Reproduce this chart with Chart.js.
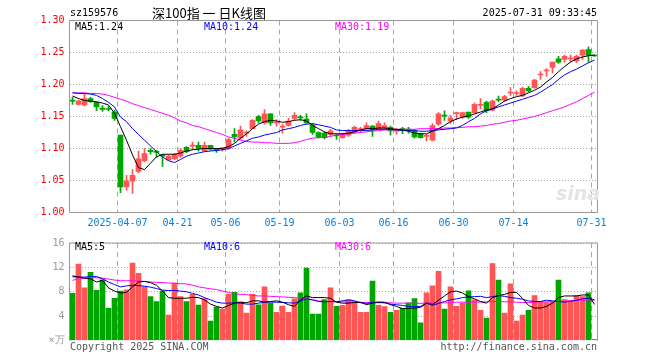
<!DOCTYPE html>
<html>
<head>
<meta charset="utf-8">
<script src="https://cdn.jsdelivr.net/npm/chart.js@4.4.0/dist/chart.umd.min.js"></script>
<style>
    body { margin: 0; background: #fff; width: 660px; height: 360px; overflow: hidden; position: relative;
           font-family: "DejaVu Sans Mono", monospace; font-size: 10px; color: #000; }
    .t { position: absolute; white-space: nowrap; line-height: 12px; }
    #top { position: absolute; left: 0; top: 0; }
    #vol { position: absolute; left: 0; top: 232px; }
</style>
</head>
<body>
<canvas id="top" width="660" height="232"></canvas>
<canvas id="vol" width="660" height="128"></canvas>

<div class="t" style="left:70px;top:7px;">sz159576</div>
<div class="t" style="left:209px;top:6px;transform:translateX(-50%);font-family:'Noto Sans CJK SC';font-size:13px;line-height:14px;">深100指 一 日K线图</div>
<div class="t" style="right:63px;top:7px;">2025-07-31 09:33:45</div>

<div class="t" style="left:75px;top:21px;">MA5:1.24</div>
<div class="t" style="left:204px;top:21px;color:#0000ff;">MA10:1.24</div>
<div class="t" style="left:335px;top:21px;color:#ff00ff;">MA30:1.19</div>
<div class="t" style="left:556px;top:182px;font-family:'DejaVu Sans';font-style:italic;font-weight:bold;font-size:19px;line-height:22px;color:#e4e4e4;">sina</div>

<div class="t" style="left:75px;top:241px;">MA5:5</div>
<div class="t" style="left:204px;top:241px;color:#0000ff;">MA10:6</div>
<div class="t" style="left:335px;top:241px;color:#ff00ff;">MA30:6</div>

<div class="t" style="left:70px;top:341px;color:#555;">Copyright 2025 SINA.COM</div>
<div class="t" style="right:63px;top:341px;color:#555;">http://finance.sina.com.cn</div>

<script>
// trading days shown (2025-03-25 .. 2025-07-31)
const dates = [
    '2025-03-25','2025-03-26','2025-03-27','2025-03-28','2025-03-31',
    '2025-04-01','2025-04-02','2025-04-03','2025-04-07','2025-04-08','2025-04-09','2025-04-10','2025-04-11',
    '2025-04-14','2025-04-15','2025-04-16','2025-04-17','2025-04-18','2025-04-21','2025-04-22','2025-04-23',
    '2025-04-24','2025-04-25','2025-04-28','2025-04-29','2025-04-30',
    '2025-05-06','2025-05-07','2025-05-08','2025-05-09','2025-05-12','2025-05-13','2025-05-14','2025-05-15',
    '2025-05-16','2025-05-19','2025-05-20','2025-05-21','2025-05-22','2025-05-23','2025-05-26','2025-05-27',
    '2025-05-28','2025-05-29','2025-05-30',
    '2025-06-03','2025-06-04','2025-06-05','2025-06-06','2025-06-09','2025-06-10','2025-06-11','2025-06-12',
    '2025-06-13','2025-06-16','2025-06-17','2025-06-18','2025-06-19','2025-06-20','2025-06-23','2025-06-24',
    '2025-06-25','2025-06-26','2025-06-27','2025-06-30',
    '2025-07-01','2025-07-02','2025-07-03','2025-07-04','2025-07-07','2025-07-08','2025-07-09','2025-07-10',
    '2025-07-11','2025-07-14','2025-07-15','2025-07-16','2025-07-17','2025-07-18','2025-07-21','2025-07-22',
    '2025-07-23','2025-07-24','2025-07-25','2025-07-28','2025-07-29','2025-07-30','2025-07-31'
];
const tickDates = ['2025-04-07','2025-04-21','2025-05-06','2025-05-19','2025-06-03','2025-06-16','2025-06-30','2025-07-14','2025-07-31'];
const tickLabels = ['2025-04-07','04-21','05-06','05-19','06-03','06-16','06-30','07-14','07-31'];
const priceTicks = [1.00, 1.05, 1.10, 1.15, 1.20, 1.25, 1.30];
const volTicks = [0, 4, 8, 12, 16];

const open = [
    1.175,1.169,1.168,1.178,1.172,1.163,1.162,1.157,1.121,1.040,1.049,1.064,1.081,1.097,1.095,1.089,
    1.082,1.084,1.088,1.102,1.1036,1.105,1.096,1.105,1.098,1.0995,1.100,1.122,1.116,1.124,1.131,1.150,
    1.140,1.154,1.1398,1.1335,1.136,1.147,1.1484,1.146,1.137,1.125,1.124,1.122,1.120,1.117,1.121,1.126,
    1.1294,1.131,1.135,1.131,1.132,1.133,1.1272,1.1298,1.129,1.1275,1.123,1.119,1.113,1.138,1.151,1.143,
    1.1546,1.149,1.157,1.156,1.1674,1.172,1.160,1.176,1.1755,1.1867,1.1859,1.182,1.194,1.195,1.2148,1.2211,
    1.2265,1.240,1.239,1.2398,1.237,1.246,1.2546,1.2455
];
const high = [
    1.180,1.1755,1.185,1.180,1.173,1.167,1.166,1.160,1.121,1.058,1.067,1.096,1.100,1.100,1.097,1.091,
    1.090,1.092,1.100,1.103,1.110,1.110,1.110,1.105,1.100,1.1015,1.116,1.131,1.135,1.1275,1.145,1.152,
    1.161,1.154,1.145,1.138,1.147,1.156,1.152,1.154,1.139,1.126,1.1255,1.130,1.123,1.124,1.130,1.135,
    1.133,1.140,1.136,1.143,1.140,1.135,1.131,1.133,1.133,1.130,1.124,1.122,1.139,1.156,1.159,1.152,
    1.157,1.157,1.157,1.171,1.178,1.174,1.1755,1.182,1.183,1.195,1.190,1.196,1.197,1.208,1.220,1.225,
    1.235,1.244,1.246,1.246,1.246,1.2546,1.259,1.2465
];
const low = [
    1.169,1.168,1.166,1.172,1.159,1.158,1.159,1.144,1.031,1.035,1.030,1.062,1.079,1.091,1.086,1.072,
    1.081,1.082,1.086,1.093,1.098,1.096,1.095,1.097,1.094,1.096,1.098,1.110,1.114,1.119,1.131,1.140,
    1.138,1.136,1.135,1.124,1.135,1.145,1.144,1.139,1.122,1.116,1.115,1.119,1.114,1.116,1.119,1.124,
    1.126,1.130,1.119,1.130,1.130,1.121,1.122,1.123,1.124,1.116,1.116,1.112,1.112,1.136,1.144,1.139,
    1.145,1.147,1.147,1.155,1.162,1.156,1.159,1.173,1.174,1.183,1.183,1.181,1.1885,1.194,1.208,1.213,
    1.218,1.233,1.235,1.235,1.234,1.239,1.235,1.244
];
const close = [
    1.174,1.174,1.178,1.173,1.165,1.161,1.161,1.147,1.040,1.049,1.058,1.084,1.092,1.095,1.094,1.088,
    1.088,1.091,1.097,1.095,1.104,1.100,1.105,1.099,1.097,1.100,1.114,1.118,1.129,1.1244,1.144,1.143,
    1.154,1.140,1.1402,1.134,1.143,1.152,1.1478,1.140,1.125,1.118,1.117,1.1275,1.1195,1.122,1.1275,1.133,
    1.1298,1.136,1.129,1.139,1.136,1.1275,1.1277,1.1294,1.1286,1.118,1.117,1.1194,1.136,1.154,1.1505,1.148,
    1.155,1.156,1.149,1.169,1.1678,1.159,1.174,1.1755,1.181,1.1871,1.1863,1.194,1.190,1.207,1.2152,1.2215,
    1.235,1.235,1.244,1.2402,1.244,1.2536,1.246,1.2445
];
const ma5 = [
    1.182,1.178,1.175,1.174,1.173,1.171,1.168,1.155,1.134,1.113,1.090,1.070,1.067,1.077,1.087,1.091,
    1.091,1.091,1.093,1.096,1.098,1.099,1.100,1.100,1.100,1.100,1.103,1.108,1.116,1.123,1.131,1.138,
    1.142,1.144,1.143,1.141,1.142,1.144,1.145,1.143,1.136,1.131,1.126,1.123,1.123,1.123,1.124,1.126,
    1.129,1.131,1.131,1.132,1.132,1.131,1.130,1.129,1.127,1.124,1.123,1.123,1.127,1.131,1.136,1.142,
    1.146,1.149,1.151,1.154,1.157,1.160,1.162,1.168,1.174,1.178,1.181,1.183,1.187,1.191,1.196,1.204,
    1.211,1.220,1.228,1.235,1.240,1.243,1.245,1.246
];
const ma10 = [
    1.187,1.186,1.186,1.185,1.183,1.178,1.172,1.165,1.149,1.142,1.131,1.122,1.113,1.104,1.095,1.087,
    1.081,1.078,1.083,1.088,1.091,1.093,1.095,1.096,1.097,1.098,1.100,1.104,1.108,1.112,1.116,1.118,
    1.121,1.123,1.125,1.129,1.131,1.133,1.136,1.138,1.139,1.137,1.135,1.133,1.129,1.128,1.128,1.128,
    1.128,1.128,1.129,1.130,1.130,1.130,1.129,1.128,1.128,1.128,1.127,1.127,1.128,1.129,1.130,1.131,
    1.132,1.136,1.142,1.147,1.154,1.159,1.162,1.165,1.168,1.171,1.174,1.177,1.180,1.183,1.188,1.194,
    1.200,1.208,1.215,1.220,1.224,1.229,1.234,1.238
];
const ma30 = [
    1.187,1.187,1.187,1.186,1.186,1.185,1.183,1.180,1.177,1.174,1.170,1.167,1.164,1.161,1.158,1.155,
    1.152,1.148,1.143,1.140,1.136,1.134,1.131,1.128,1.125,1.122,1.118,1.116,1.113,1.111,1.110,1.110,
    1.109,1.109,1.108,1.108,1.108,1.109,1.111,1.114,1.116,1.117,1.117,1.119,1.121,1.122,1.123,1.124,
    1.125,1.126,1.127,1.128,1.129,1.129,1.130,1.130,1.130,1.130,1.131,1.131,1.131,1.131,1.132,1.132,
    1.133,1.133,1.134,1.134,1.135,1.136,1.138,1.139,1.141,1.143,1.144,1.146,1.148,1.150,1.153,1.156,
    1.159,1.162,1.165,1.169,1.173,1.178,1.183,1.188
];
// volume, in 万
const volume = [
    7.73,12.53,8.64,11.2,8.24,9.97,5.28,6.93,8.11,8.32,12.69,11.04,8.8,7.2,6.4,8.1,
    4.16,9.44,7.2,6.4,7.57,5.81,6.88,3.2,5.49,5.17,7.57,7.89,6.29,4.48,7.57,5.87,
    8.8,6.08,4.64,5.65,4.64,6.83,7.84,11.9,4.32,4.32,6.72,8.64,5.6,5.76,6.67,6.4,
    4.64,4.64,9.76,5.76,5.55,4.64,4.96,5.28,6.19,6.88,2.88,7.84,8.96,11.36,5.15,8.8,
    5.6,6.13,8.16,6.67,4.96,3.68,12.64,9.92,4.48,9.28,3.2,4.16,4.96,7.36,6.4,6.24,
    6.4,9.92,6.72,6.61,7.36,7.2,7.84,0.16
];
const volMa5 = [
    10.61,10.45,10.24,10.13,9.6,9.87,8.64,8.11,7.79,7.89,8.8,9.6,9.7,9.49,9.07,8.11,
    7.04,6.93,6.93,6.93,7.09,7.04,6.67,5.97,5.6,5.33,5.76,6.13,6.29,6.19,6.51,6.51,
    6.29,6.4,6.51,6.29,5.87,5.6,6.67,7.31,7.04,7.04,7.04,6.93,6.29,6.13,6.13,6.24,
    6.29,5.87,6.13,6.29,6.29,5.87,5.6,5.23,5.28,5.33,5.44,6.13,5.92,6.61,7.31,8.0,
    8.11,7.79,7.2,6.83,6.4,6.13,7.04,7.36,7.57,7.89,7.89,6.93,5.76,5.33,5.33,5.6,
    6.13,7.04,7.31,7.31,7.31,7.47,7.47,5.92
];
const volMa10 = [
    10.45,10.4,10.4,10.51,10.51,10.13,9.6,9.17,8.8,8.96,9.07,9.01,8.91,8.75,8.53,8.27,
    8.21,8.21,8.11,8.0,7.73,7.47,7.04,6.67,6.29,6.13,6.13,6.19,6.13,5.97,5.97,6.13,
    6.29,6.29,6.29,6.24,6.19,6.13,6.51,6.83,6.67,6.4,6.35,6.4,6.35,6.51,6.67,6.51,
    6.19,6.08,6.24,6.29,6.19,5.97,5.87,5.76,5.6,5.55,5.6,6.13,5.76,6.08,6.4,6.67,
    6.83,7.04,7.15,7.2,7.25,7.04,7.2,7.36,7.25,7.04,6.93,6.77,6.51,6.4,6.4,6.61,
    6.51,6.4,6.29,6.4,6.61,6.83,6.93,6.67
];
const volMa30 = [
    9.87,10.13,10.24,10.3,10.3,10.24,10.08,9.92,9.81,9.81,9.81,9.76,9.7,9.6,9.55,9.49,
    9.44,9.39,9.33,9.28,9.07,8.8,8.64,8.48,8.37,8.11,7.89,7.68,7.57,7.52,7.41,7.31,
    7.31,7.25,7.2,7.15,7.09,7.04,6.93,6.83,6.67,6.51,6.4,6.4,6.35,6.35,6.29,6.29,
    6.24,6.24,6.24,6.19,6.19,6.19,6.13,6.13,6.13,6.13,6.08,6.19,6.13,6.13,6.19,6.19,
    6.29,6.29,6.29,6.29,6.29,6.35,6.4,6.4,6.35,6.35,6.29,6.24,6.24,6.29,6.35,6.35,
    6.35,6.4,6.45,6.51,6.56,6.61,6.67,6.6
];

const UP = '#ff5555', DOWN = '#00a600';
const GRID = '#a8a8a8';
const MONO = { family: 'DejaVu Sans Mono', size: 10 };

const barColor = close.map((c, i) => c >= open[i] ? UP : DOWN);
const isTick = i => i < dates.length && tickDates.includes(dates[i]);

// gray frame round the plot area
const framePlugin = {
    id: 'frame',
    afterDraw(chart, args, opts) {
        const { ctx, chartArea: a } = chart;
        ctx.save();
        ctx.strokeStyle = '#999';
        ctx.lineWidth = 1;
        ctx.beginPath();
        ctx.moveTo(a.left, a.bottom);
        ctx.lineTo(a.left, a.top);
        ctx.lineTo(a.right, a.top);
        ctx.lineTo(a.right, a.bottom);
        if (opts.bottom) ctx.lineTo(a.left, a.bottom);
        ctx.stroke();
        ctx.restore();
    }
};

function xScale(showLabels) {
    return {
        grid: { color: c => isTick(c.index) ? GRID : 'rgba(0,0,0,0)', drawTicks: false, offset: true },
        border: { display: false, dash: [5, 4] },
        ticks: {
            display: showLabels, autoSkip: false, maxRotation: 0, minRotation: 0,
            color: '#0a7fd8', font: MONO, padding: 5, labelOffset: -3,
            callback: (v, i) => { const k = tickDates.indexOf(dates[i]); return k >= 0 ? tickLabels[k] : ''; }
        },
        afterFit: s => { s.height = 19.5; }
    };
}

const lineDs = (data, color) => ({
    type: 'line', data, borderColor: color, borderWidth: 1, pointRadius: 0, tension: 0, order: 0
});

// price panel
new Chart(document.getElementById('top'), {
    type: 'bar',
    data: {
        labels: dates,
        datasets: [
            lineDs(ma5, '#000000'),
            lineDs(ma10, '#0000ff'),
            lineDs(ma30, '#ff00ff'),
            {
                data: dates.map((d, i) => [Math.min(open[i], close[i]), Math.max(open[i], close[i])]),
                backgroundColor: barColor, barThickness: 5, minBarLength: 1, grouped: false, order: 1
            },
            {
                data: dates.map((d, i) => [low[i], high[i]]),
                backgroundColor: barColor, barThickness: 1, grouped: false, order: 2
            }
        ]
    },
    options: {
        responsive: false, animation: false, events: [],
        layout: { padding: { left: 0, right: 62.5, top: 20.5, bottom: 0 } },
        plugins: { legend: { display: false }, tooltip: { enabled: false }, frame: { bottom: true } },
        scales: {
            x: xScale(true),
            y: {
                min: priceTicks[0], max: priceTicks[priceTicks.length - 1],
                afterBuildTicks: s => { s.ticks = priceTicks.map(v => ({ value: v })); },
                ticks: { color: '#ff0000', font: MONO, padding: 5, callback: v => v.toFixed(2) },
                grid: { color: GRID, drawTicks: false },
                border: { display: false, dash: [1, 2] },
                afterFit: s => { s.width = 69.5; }
            }
        }
    },
    plugins: [framePlugin]
});

// volume panel
new Chart(document.getElementById('vol'), {
    type: 'bar',
    data: {
        labels: dates,
        datasets: [
            lineDs(volMa5, '#000000'),
            lineDs(volMa10, '#0000ff'),
            lineDs(volMa30, '#ff00ff'),
            { data: volume, backgroundColor: barColor, barThickness: 5, grouped: false, order: 1 }
        ]
    },
    options: {
        responsive: false, animation: false, events: [],
        layout: { padding: { left: 0, right: 62.5, top: 8.5, bottom: 0 } },
        plugins: { legend: { display: false }, tooltip: { enabled: false }, frame: { bottom: false } },
        scales: {
            x: xScale(false),
            y: {
                min: volTicks[0], max: volTicks[volTicks.length - 1],
                afterBuildTicks: s => { s.ticks = volTicks.map(v => ({ value: v })); },
                ticks: { color: '#999', font: MONO, padding: 5, callback: v => v === 0 ? '×万' : v },
                grid: { color: c => c.tick && c.tick.value === 0 ? 'rgba(0,0,0,0)' : GRID, drawTicks: false },
                border: { display: false, dash: [1, 2] },
                afterFit: s => { s.width = 69.5; }
            }
        }
    },
    plugins: [framePlugin]
});
</script>
</body>
</html>
